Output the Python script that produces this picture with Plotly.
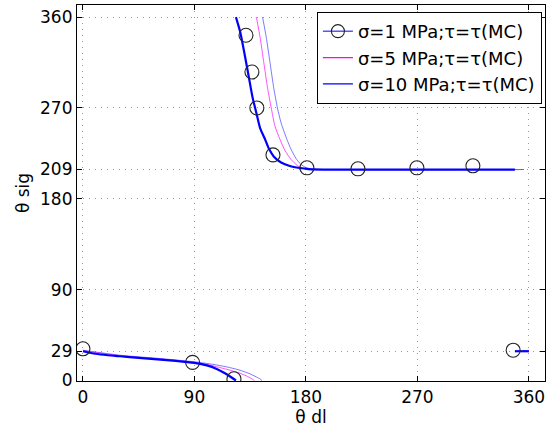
import plotly.graph_objects as go

# ---------------- data ----------------
# measured points (circles)
pts_x = [0, 88.5, 121.9, 131.6, 136.4, 140.4, 153.4, 180.8, 222, 269.6, 314.8, 347.3]
pts_y = [31.4, 18, 1.7, 342, 305.6, 270, 223.5, 210.7, 209.7, 210.7, 212.7, 30]

# sigma = 1 MPa curve (thick blue)
s1_low_x = [0, 10, 20, 30, 45, 60, 75, 90, 100, 108, 115, 120, 123.5]
s1_low_y = [29, 26.5, 25, 24, 22.5, 21, 19.5, 17.5, 15, 11.5, 7, 3, 0]
s1_up_x = [123.5, 127, 131, 134, 137, 140, 143, 147, 150, 154, 160, 167, 175, 182, 200, 348.7]
s1_up_y = [360, 345, 320, 300, 280, 265, 250, 239, 230, 222, 216, 212.5, 210.5, 209.5, 209, 209]
s1_end_x = [348.7, 360]
s1_end_y = [29, 29]

# sigma = 5 MPa curve (magenta)
s5_low_x = [0, 30, 60, 90, 100, 110, 118, 126, 132, 136, 138.3]
s5_low_y = [29.5, 24.5, 21.5, 18, 16, 13, 10.5, 7.5, 4.5, 2, 0]
s5_up_x = [140, 143, 146, 149, 152, 155, 159, 163, 168, 173, 178, 185, 200, 356]
s5_up_y = [360, 340, 315, 290, 270, 252, 239, 228, 219, 213, 210, 209.2, 209, 209]
s5_end_x = [356, 360]
s5_end_y = [29, 29]

# sigma = 10 MPa curve (thin blue)
s10_low_x = [0, 30, 60, 90, 105, 116, 126, 134, 140, 143, 144.5]
s10_low_y = [30, 25, 22, 18.5, 16, 13.5, 10.5, 7, 3.5, 1.5, 0]
s10_up_x = [145, 148, 151, 154, 157, 160, 164.6, 168, 172, 176, 180, 186, 200, 356]
s10_up_y = [360, 340, 315, 290, 270, 255, 239, 229, 220, 214, 211, 209.3, 209, 209]
s10_end_x = [356, 360]
s10_end_y = [29, 29]

x_ticks = [0, 90, 180, 270, 360]
y_ticks = [0, 29, 90, 180, 209, 270, 360]
names = ["σ=1 MPa;τ=τ(MC)", "σ=5 MPa;τ=τ(MC)", "σ=10 MPa;τ=τ(MC)"]

FONT = "DejaVu Sans, Liberation Sans, Arial, sans-serif"
FS = 17

# ---------------- figure ----------------
fig = go.Figure()

def seg(xs, ys, color, width):
    fig.add_trace(go.Scatter(x=xs, y=ys, mode="lines",
                             line=dict(color=color, width=width, shape="spline", smoothing=0.6),
                             showlegend=False, hoverinfo="skip"))

thin_blue = "rgba(60,60,255,0.85)"
magenta = "rgba(255,0,255,0.85)"

for xs, ys in [(s10_low_x, s10_low_y), (s10_up_x, s10_up_y), (s10_end_x, s10_end_y)]:
    seg(xs, ys, thin_blue, 0.8)
for xs, ys in [(s5_low_x, s5_low_y), (s5_up_x, s5_up_y), (s5_end_x, s5_end_y)]:
    seg(xs, ys, magenta, 0.8)
for xs, ys in [(s1_low_x, s1_low_y), (s1_up_x, s1_up_y), (s1_end_x, s1_end_y)]:
    seg(xs, ys, "#0000ff", 2.2)

fig.add_trace(go.Scatter(x=pts_x, y=pts_y, mode="markers",
                         marker=dict(symbol="circle-open", size=14, color="#222222", line=dict(width=1.1)),
                         showlegend=False, hoverinfo="skip"))

# legend entries
fig.add_trace(go.Scatter(x=[None], y=[None], mode="lines+markers", name=names[0],
                         line=dict(color="#0000ff", width=1),
                         marker=dict(symbol="circle-open", size=13, color="#222222", line=dict(width=1.1))))
fig.add_trace(go.Scatter(x=[None], y=[None], mode="lines", name=names[1], line=dict(color="#ff00ff", width=1.2)))
fig.add_trace(go.Scatter(x=[None], y=[None], mode="lines", name=names[2], line=dict(color="#0000ff", width=1.2)))

axis_common = dict(
    showline=True, linecolor="black", linewidth=1.2, mirror="ticks",
    ticks="inside", ticklen=5, tickcolor="black",
    showgrid=True, gridcolor="#999999", gridwidth=1, griddash="1px,5px",
    zeroline=False, automargin=False,
    tickfont=dict(family=FONT, size=FS, color="black"),
)

fig.update_xaxes(range=[-4.8, 373], tickvals=x_ticks, ticktext=[str(v) for v in x_ticks],
                 title=dict(text="θ dl", standoff=5, font=dict(family=FONT, size=FS, color="black")),
                 **axis_common)
fig.update_yaxes(range=[-0.5, 372], tickvals=y_ticks, ticktext=[str(v) for v in y_ticks],
                 title=dict(text="θ sig", standoff=6, font=dict(family=FONT, size=FS, color="black")),
                 **axis_common)

fig.update_layout(
    width=547, height=433,
    margin=dict(l=77, r=2, t=5, b=52),
    paper_bgcolor="white", plot_bgcolor="white",
    font=dict(family=FONT, size=FS, color="black"),
    legend=dict(x=0.993, y=0.982, xanchor="right", yanchor="top",
                bgcolor="white", bordercolor="black", borderwidth=1.2,
                font=dict(family=FONT, size=18), tracegroupgap=0, itemwidth=30),
)

fig.write_html("out.html", config={"displayModeBar": False},
               post_script="document.body.style.margin='0';")
